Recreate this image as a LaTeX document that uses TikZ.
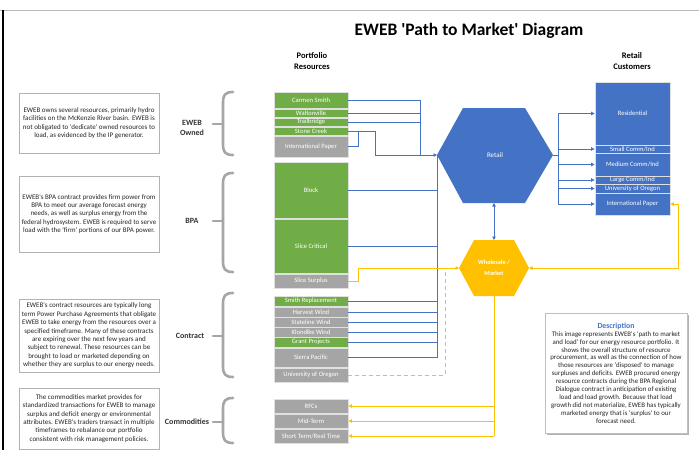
\documentclass[tikz,border=0pt]{standalone}
\usepackage{fontspec}
\setmainfont{Carlito}
\usetikzlibrary{arrows.meta}

\definecolor{ewebblue}{HTML}{4472C4}
\definecolor{ewebgreen}{HTML}{70AD47}
\definecolor{ewebgray}{HTML}{A5A5A5}
\definecolor{ewebgold}{HTML}{FFC000}
\definecolor{bracegray}{HTML}{A6A6A6}

% straight single quote
\newcommand{\sq}{\textquotesingle}

\begin{document}
\begin{tikzpicture}[x=1pt, y=-1pt, >={Triangle[length=3.5pt,width=3.5pt]},
    box/.style={rectangle, draw=white!88!black, line width=0.8pt, text=white, minimum width=74pt, inner sep=0pt, font=\fontsize{6.6}{6.6}\selectfont},
    gen/.style={box, fill=ewebgreen, minimum height=#1},
    ctr/.style={box, fill=ewebgray, minimum height=#1},
    cust/.style={box, fill=ewebblue, minimum width=75pt, minimum height=#1},
    note/.style={rectangle, draw=gray!60, line width=0.6pt, minimum width=140pt, align=center, inner sep=1.5pt, font=\fontsize{7}{8.4}\selectfont, text=black!85},
    head/.style={align=center, font=\fontsize{8.5}{11}\selectfont\bfseries},
    grp/.style={align=center, font=\fontsize{8}{10}\selectfont\bfseries, text=black!80},
    brc/.style={draw=bracegray, line width=2.6pt, line cap=round},
    bl/.style={draw=ewebblue, line width=0.8pt},
    ol/.style={draw=ewebgold, line width=0.9pt}]

    \useasboundingbox (0,0) rectangle (699,450);
    \fill[white] (0,0) rectangle (699,450);
    \draw[gray!55, line width=1pt] (0,10) -- (699,10);
    \draw[black, line width=1.4pt] (3,10) -- (3,450);

    % Title and column headings
    \node[font=\fontsize{17.5}{20}\selectfont\bfseries] (title) at (469,31) {EWEB \sq Path to Market\sq{} Diagram};
    \node[head] (porthead) at (312,61) {Portfolio\\Resources};
    \node[head] (custhead) at (632,61) {Retail\\Customers};

    % Notes on the left
    \node[note, minimum height=60pt] (ownednote) at (89,123) {EWEB owns several resources, primarily hydro\\facilities on the McKenzie River basin. EWEB is\\not obligated to \sq dedicate\sq{} owned resources to\\load, as evidenced by the IP generator.};
    \node[note, minimum height=76pt] (bpanote) at (89,214) {EWEB\sq s BPA contract provides firm power from\\BPA to meet our average forecast energy\\needs, as well as surplus energy from the\\federal hydrosystem. EWEB is required to serve\\load with the \sq firm\sq{} portions of our BPA power.};
    \node[note, minimum height=73pt] (contractnote) at (89,335.5) {EWEB\sq s contract resources are typically long\\term Power Purchase Agreements that obligate\\EWEB to take energy from the resources over a\\specified timeframe. Many of these contracts\\are expiring over the next few years and\\subject to renewal. These resources can be\\brought to load or marketed depending on\\whether they are surplus to our energy needs.};
    \node[note, minimum height=61pt] (commnote) at (89,418.5) {The commodities market provides for\\standardized transactions for EWEB to manage\\surplus and deficit energy or environmental\\attributes. EWEB\sq s traders transact in multiple\\timeframes to rebalance our portfolio\\consistent with risk management policies.};

    % Braces and group names
    \foreach \top/\mid/\bot in {92/124/155, 173/221/272, 293/336/377, 398/422/443} {
        \draw[brc] (233,\top) .. controls (225,\top) and (223,\top+3) .. (223,\top+11) -- (223,\bot-11) .. controls (223,\bot-3) and (225,\bot) .. (233,\bot);
        \draw[brc] (213,\mid) -- (223,\mid);
    }
    \node[grp] (owned) at (192,128) {EWEB\\Owned};
    \node[grp] (bpa) at (192,221) {BPA};
    \node[grp] (contract) at (190,336) {Contract};
    \node[grp] (commod) at (187,422) {Commodities};

    % Portfolio resources
    \node[gen=16] (carmen) at (311,100) {Carmen Smith};
    \node[gen=8] (walton) at (311,113) {Waltonville};
    \node[gen=8] (trail) at (311,122) {Trailbridge};
    \node[gen=8] (stone) at (311,131) {Stone Creek};
    \node[ctr=21] (ipgen) at (311,146.5) {International Paper};
    \node[gen=56] (block) at (311,190) {Block};
    \node[gen=54] (slicecrit) at (311,246) {Slice Critical};
    \node[ctr=14] (slicesur) at (311,281) {Slice Surplus};
    \node[gen=10] (smithrep) at (311,301) {Smith Replacement};
    \node[ctr=10] (harvest) at (311,312) {Harvest Wind};
    \node[ctr=10] (stateline) at (311,322) {Stateline Wind};
    \node[ctr=10] (klondike) at (311,332) {Klondike Wind};
    \node[gen=10] (grant) at (311,342) {Grant Projects};
    \node[ctr=19] (sierra) at (311,357.5) {Sierra Pacific};
    \node[ctr=14] (uogen) at (311,375) {University of Oregon};
    \node[ctr=14] (rfc) at (311,406) {RFCs};
    \node[ctr=14] (midterm) at (311,421) {Mid-Term};
    \node[ctr=14] (shortterm) at (311,436) {Short Term/Real Time};

    % Retail customers
    \node[cust=63] (resid) at (632.5,113.5) {Residential};
    \node[cust=8] (small) at (632.5,149) {Small Comm/Ind};
    \node[cust=23] (medium) at (632.5,164.5) {Medium Comm/Ind};
    \node[cust=8] (large) at (632.5,180) {Large Comm/Ind};
    \node[cust=9] (uoload) at (632.5,188.5) {University of Oregon};
    \node[cust=22] (ipload) at (632.5,204) {International Paper};

    % Retail hexagon
    \fill[ewebblue] (437,155) -- (463,108) -- (525,108) -- (553,155) -- (525,203) -- (463,203) -- cycle;
    \node[text=white, font=\fontsize{7}{8}\selectfont] (retail) at (495,155) {Retail};
    \coordinate (retail-w) at (437,155);
    \coordinate (retail-e) at (553,155);
    \coordinate (retail-s) at (494,203);

    % Wholesale hexagon
    \fill[ewebgold] (459,268) -- (474,240) -- (514,240) -- (529,268) -- (514,296) -- (474,296) -- cycle;
    \node[text=white, align=center, font=\fontsize{6.3}{11}\selectfont\bfseries] (market) at (494,268) {Wholesale /\\Market};
    \coordinate (market-w) at (459,268);
    \coordinate (market-e) at (529,268);
    \coordinate (market-n) at (494,240);
    \coordinate (market-s) at (494,296);

    % Buses
    \coordinate (upbus) at (420,155);
    \coordinate (stonebus) at (375,155);
    \coordinate (lowbus) at (437,155);
    \coordinate (rbus) at (558,155);
    \coordinate (surbus) at (445,268);
    \coordinate (ipbus) at (678,268);

    % Resources into retail
    \foreach \n in {carmen, walton, trail}
        \draw[bl] (\n.east) -| (upbus);
    \draw[bl] (ipgen.east) -- ++(10,0) -- ++(0,-15.5);
    \draw[bl] (stone.east) -| (stonebus);
    \foreach \n in {block, slicecrit, smithrep, harvest, stateline, klondike, grant, sierra}
        \draw[bl] (\n.east) -| (lowbus);
    \draw[bl, ->] (stonebus) -- (retail-w);

    % Retail to customers
    \draw[bl] (retail-e) -- (rbus);
    \foreach \n in {resid, small, medium, large, uoload, ipload}
        \draw[bl, ->] (rbus) |- (\n.west);
    \draw[bl, <->] (retail-s) -- (market-n);

    % Surplus to the market
    \draw[ol, ->] (slicesur.east) -- ++(10,0) |- (market-w);
    \draw[ol, dash pattern=on 4pt off 3pt] (uogen.east) -| (surbus);
    \draw[ol, <->] (market-e) -| (ipbus) |- (ipload.east);

    % Market to commodities
    \draw[ol] (market-s) -- (494,436);
    \foreach \n in {rfc, midterm, shortterm}
        \draw[ol, ->] (market-s |- \n.east) -- (\n.east);

    % Description
    \fill[gray!60] (547,315) rectangle (689,435);
    \node[rectangle, draw=gray!50, fill=white, line width=0.5pt, minimum width=142pt, minimum height=120pt, align=center, inner sep=1.5pt, font=\fontsize{6.9}{7.9}\selectfont, text=black!85] (desc) at (616,373) {{\color{ewebblue}\bfseries\fontsize{7.8}{9}\selectfont Description}\\This image represents EWEB\sq s \sq path to market\\and load\sq{} for our energy resource portfolio. It\\shows the overall structure of resource\\procurement, as well as the connection of how\\those resources are \sq disposed\sq{} to manage\\surpluses and deficits. EWEB procured energy\\resource contracts during the BPA Regional\\Dialogue contract in anticipation of existing\\load and load growth. Because that load\\growth did not materialize, EWEB has typically\\marketed energy that is \sq surplus\sq{} to our\\forecast need.};
\end{tikzpicture}
\end{document}
